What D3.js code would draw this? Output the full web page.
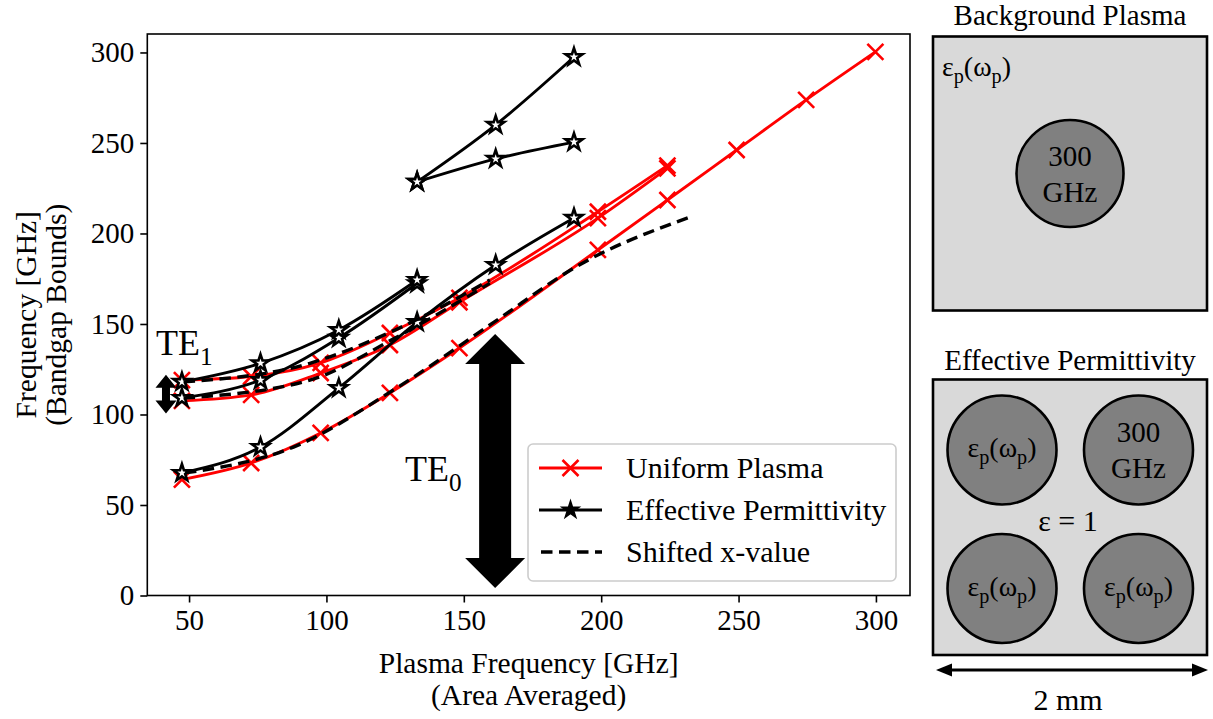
<!DOCTYPE html>
<html>
<head>
<meta charset="utf-8">
<script src="https://cdn.jsdelivr.net/npm/d3@7"></script>
<style>
  html, body { margin: 0; padding: 0; background: #ffffff; }
  svg { display: block; }
  text { font-family: "Liberation Serif", "Times New Roman", serif; fill: #000; }
</style>
</head>
<body>
<svg id="chart" width="1213" height="719"></svg>
<script>
// ---- Data: bandgap bounds vs. area-averaged plasma frequency (GHz) ----
const uniformX        = [47.4, 72.6, 97.9, 123.1, 148.4, 198.8, 224.1, 249.3, 274.6, 299.8];
const uniformTE0      = [64.0, 73.2, 89.8, 111.9, 136.7, 190.9, 218.5, 246.1, 273.8, 300.3];
const uniformTE1X     = [47.4, 72.6, 97.9, 123.1, 148.4, 198.8, 224.1];
const uniformTE1Lower = [107.5, 110.8, 122.9, 138.4, 162.0, 208.5, 236.0];
const uniformTE1Upper = [119.0, 121.0, 128.5, 145.0, 164.4, 212.0, 237.5];

const effX        = [47.4, 76.0, 104.5, 133.0, 161.6, 190.1];
const effTE0      = [67.7, 82.0, 114.6, 151.0, 182.6, 208.6];
const effTE1X     = [47.4, 76.0, 104.5, 133.0];
const effTE1Lower = [109.1, 119.0, 142.3, 172.5];
const effTE1Upper = [118.0, 128.3, 146.7, 174.3];
const effHighX    = [133.0, 161.6, 190.1];
const effHighA    = [228.5, 260.0, 297.5];
const effHighB    = [228.5, 241.2, 250.5];

// effective-permittivity bounds re-plotted at shifted plasma frequencies
const shiftTE0X = [48.5, 88.0, 125.5, 161.0, 192.0, 231.5];
const shiftTE1X = [48.0, 94.0, 125.0, 159.5];

const xTicks = [50, 100, 150, 200, 250, 300];
const yTicks = [0, 50, 100, 150, 200, 250, 300];

const legendLabels = ["Uniform Plasma", "Effective Permittivity", "Shifted x-value"];

// ---- Layout ----
const svg = d3.select("#chart");
const plot = { left: 147.3, right: 910, top: 34, bottom: 595.5 };
const x = d3.scaleLinear().domain([34.8, 312.4]).range([plot.left, plot.right]);
const y = d3.scaleLinear().domain([0, 310.2]).range([plot.bottom, plot.top]);

const zip = (xs, ys) => xs.map((v, i) => [v, ys[i]]);
const line = d3.line().x(d => x(d[0])).y(d => y(d[1])).curve(d3.curveMonotoneX);

const RED = "#ff0000";
const LW = 2.9;
const crossPath = (s) => `M${-s},${-s}L${s},${s}M${-s},${s}L${s},${-s}`;
const starPath = d3.symbol(d3.symbolStar, 90)();

const g = svg.append("g");

function drawUniform(pts) {
  g.append("path").attr("d", line(pts)).attr("fill", "none")
    .attr("stroke", RED).attr("stroke-width", LW).attr("stroke-linejoin", "round");
  g.append("g").selectAll("path").data(pts).join("path")
    .attr("transform", d => `translate(${x(d[0])},${y(d[1])})`)
    .attr("d", crossPath(8)).attr("fill", "none")
    .attr("stroke", RED).attr("stroke-width", 2.6);
}
function drawEffective(pts) {
  g.append("path").attr("d", line(pts)).attr("fill", "none")
    .attr("stroke", "#000").attr("stroke-width", LW).attr("stroke-linejoin", "round");
  g.append("g").selectAll("path").data(pts).join("path")
    .attr("transform", d => `translate(${x(d[0])},${y(d[1])})`)
    .attr("d", starPath).attr("fill", "#fff")
    .attr("stroke", "#000").attr("stroke-width", 2.6).attr("stroke-linejoin", "miter");
}
function drawShifted(pts) {
  g.append("path").attr("d", line(pts)).attr("fill", "none")
    .attr("stroke", "#000").attr("stroke-width", 3.4).attr("stroke-dasharray", "11.5,6.5");
}

drawUniform(zip(uniformX, uniformTE0));
drawUniform(zip(uniformTE1X, uniformTE1Lower));
drawUniform(zip(uniformTE1X, uniformTE1Upper));

drawEffective(zip(effX, effTE0));
drawEffective(zip(effTE1X, effTE1Lower));
drawEffective(zip(effTE1X, effTE1Upper));
drawEffective(zip(effHighX, effHighA));
drawEffective(zip(effHighX, effHighB));

drawShifted(zip(shiftTE0X, effTE0));
drawShifted(zip(shiftTE1X, effTE1Lower));
drawShifted(zip(shiftTE1X, effTE1Upper));

// ---- Double-headed band arrows ----
function doubleArrow(xv, y0, y1, headW, headL, shaftW) {
  const cx = x(xv), top = y(y1), bot = y(y0);
  const pts = [
    [cx, top], [cx + headW / 2, top + headL], [cx + shaftW / 2, top + headL],
    [cx + shaftW / 2, bot - headL], [cx + headW / 2, bot - headL], [cx, bot],
    [cx - headW / 2, bot - headL], [cx - shaftW / 2, bot - headL],
    [cx - shaftW / 2, top + headL], [cx - headW / 2, top + headL]
  ];
  g.append("polygon").attr("points", pts.map(p => p.join(",")).join(" ")).attr("fill", "#000");
}
doubleArrow(161.4, 4.1, 144.5, 60, 30, 32);
doubleArrow(41.6, 100.5, 122, 21, 13, 8);

// band labels with subscripts
function bandLabel(px, py, sub, size) {
  const t = svg.append("text").attr("x", px).attr("y", py).style("font-size", size + "px");
  t.append("tspan").text("TE");
  t.append("tspan").attr("dy", size * 0.28).style("font-size", (size * 0.7) + "px").text(sub);
}
bandLabel(156, 355, "1", 36);
bandLabel(405, 481, "0", 36);

// ---- Legend ----
const lg = svg.append("g").attr("transform", "translate(528,444)");
lg.append("rect").attr("width", 368).attr("height", 137).attr("rx", 5)
  .attr("fill", "#fff").attr("fill-opacity", 0.8).attr("stroke", "#cccccc").attr("stroke-width", 1.6);
const rowsY = [24, 66, 108];
// Uniform Plasma
lg.append("line").attr("x1", 11).attr("x2", 74).attr("y1", rowsY[0]).attr("y2", rowsY[0])
  .attr("stroke", RED).attr("stroke-width", LW);
lg.append("path").attr("transform", `translate(42.5,${rowsY[0]})`).attr("d", crossPath(8))
  .attr("stroke", RED).attr("stroke-width", 2.6).attr("fill", "none");
// Effective Permittivity
lg.append("line").attr("x1", 11).attr("x2", 74).attr("y1", rowsY[1]).attr("y2", rowsY[1])
  .attr("stroke", "#000").attr("stroke-width", LW);
lg.append("path").attr("transform", `translate(42.5,${rowsY[1]})`).attr("d", starPath)
  .attr("fill", "#000").attr("stroke", "#000").attr("stroke-width", 1.5);
// Shifted x-value
lg.append("line").attr("x1", 13).attr("x2", 74).attr("y1", rowsY[2]).attr("y2", rowsY[2])
  .attr("stroke", "#000").attr("stroke-width", 3.4).attr("stroke-dasharray", "11.5,6.5");
lg.selectAll("text.lbl").data(legendLabels).join("text").attr("class", "lbl")
  .attr("x", 98).attr("y", (d, i) => rowsY[i] + 10).style("font-size", "30px").text(d => d);

// ---- Axes ----
const xAxis = svg.append("g").attr("transform", `translate(0,${plot.bottom})`)
  .call(d3.axisBottom(x).tickValues(xTicks).tickSize(7).tickPadding(7).tickFormat(d3.format("d")));
const yAxis = svg.append("g").attr("transform", `translate(${plot.left},0)`)
  .call(d3.axisLeft(y).tickValues(yTicks).tickSize(7).tickPadding(6).tickFormat(d3.format("d")));
[xAxis, yAxis].forEach(a => {
  a.select(".domain").remove();
  a.selectAll("line").attr("stroke", "#000").attr("stroke-width", 1.6);
  a.selectAll("text").style("font-size", "29px").style("font-family", "Liberation Serif");
});
svg.append("rect").attr("x", plot.left).attr("y", plot.top)
  .attr("width", plot.right - plot.left).attr("height", plot.bottom - plot.top)
  .attr("fill", "none").attr("stroke", "#000").attr("stroke-width", 1.6);

// axis titles
const cxPlot = (plot.left + plot.right) / 2;
svg.append("text").attr("x", cxPlot).attr("y", 673).attr("text-anchor", "middle")
  .style("font-size", "29.5px").text("Plasma Frequency [GHz]");
svg.append("text").attr("x", cxPlot).attr("y", 705).attr("text-anchor", "middle")
  .style("font-size", "29.5px").text("(Area Averaged)");
const cyPlot = (plot.top + plot.bottom) / 2;
svg.append("text").attr("transform", `translate(36,${cyPlot}) rotate(-90)`).attr("text-anchor", "middle")
  .style("font-size", "29.5px").text("Frequency [GHz]");
svg.append("text").attr("transform", `translate(66,${cyPlot}) rotate(-90)`).attr("text-anchor", "middle")
  .style("font-size", "29.5px").text("(Bandgap Bounds)");

// ---- Unit-cell sketches ----
const LIGHT = "#d9d9d9", DARK = "#808080";
function epsLabel(parent, px, py, anchor, size) {
  const t = parent.append("text").attr("x", px).attr("y", py).attr("text-anchor", anchor)
    .style("font-size", size + "px");
  t.append("tspan").text("ε");
  t.append("tspan").attr("dy", size * 0.25).style("font-size", (size * 0.72) + "px").text("p");
  t.append("tspan").attr("dy", -size * 0.25).text("(ω");
  t.append("tspan").attr("dy", size * 0.25).style("font-size", (size * 0.72) + "px").text("p");
  t.append("tspan").attr("dy", -size * 0.25).text(")");
  return t;
}
function rod(parent, cx, cy, r) {
  parent.append("circle").attr("cx", cx).attr("cy", cy).attr("r", r)
    .attr("fill", DARK).attr("stroke", "#000").attr("stroke-width", 2.6);
}
function ghzLabel(parent, cx, cy) {
  parent.append("text").attr("x", cx).attr("y", cy - 8).attr("text-anchor", "middle")
    .style("font-size", "29px").text("300");
  parent.append("text").attr("x", cx).attr("y", cy + 28).attr("text-anchor", "middle")
    .style("font-size", "29px").text("GHz");
}

const cells = svg.append("g");
// background plasma cell
cells.append("text").attr("x", 1070).attr("y", 25).attr("text-anchor", "middle")
  .style("font-size", "29px").text("Background Plasma");
cells.append("rect").attr("x", 933).attr("y", 36.5).attr("width", 274).attr("height", 274)
  .attr("fill", LIGHT).attr("stroke", "#000").attr("stroke-width", 2.6);
epsLabel(cells, 942, 76, "start", 28);
rod(cells, 1070, 173.5, 53.5);
ghzLabel(cells, 1070, 173.5);

// effective permittivity cell
cells.append("text").attr("x", 1070).attr("y", 370).attr("text-anchor", "middle")
  .style("font-size", "29px").text("Effective Permittivity");
cells.append("rect").attr("x", 933).attr("y", 379.5).attr("width", 274).attr("height", 275.5)
  .attr("fill", LIGHT).attr("stroke", "#000").attr("stroke-width", 2.6);
const rodCentres = [[1002, 450], [1138.5, 450], [1002, 588.5], [1138.5, 588.5]];
rodCentres.forEach(c => rod(cells, c[0], c[1], 54.5));
[0, 2, 3].forEach(i => epsLabel(cells, rodCentres[i][0], rodCentres[i][1] + 7, "middle", 28));
ghzLabel(cells, rodCentres[1][0], rodCentres[1][1]);
cells.append("text").attr("x", 1068).attr("y", 531).attr("text-anchor", "middle")
  .style("font-size", "30px").text("ε = 1");

// 2 mm scale arrow
const ay = 670, ax0 = 936, ax1 = 1208;
cells.append("line").attr("x1", ax0 + 10).attr("x2", ax1 - 10).attr("y1", ay).attr("y2", ay)
  .attr("stroke", "#000").attr("stroke-width", 2.8);
cells.append("polygon").attr("points", `${ax0},${ay} ${ax0 + 16},${ay - 6.5} ${ax0 + 16},${ay + 6.5}`).attr("fill", "#000");
cells.append("polygon").attr("points", `${ax1},${ay} ${ax1 - 16},${ay - 6.5} ${ax1 - 16},${ay + 6.5}`).attr("fill", "#000");
cells.append("text").attr("x", 1068).attr("y", 710).attr("text-anchor", "middle")
  .style("font-size", "30px").text("2 mm");
</script>
</body>
</html>
